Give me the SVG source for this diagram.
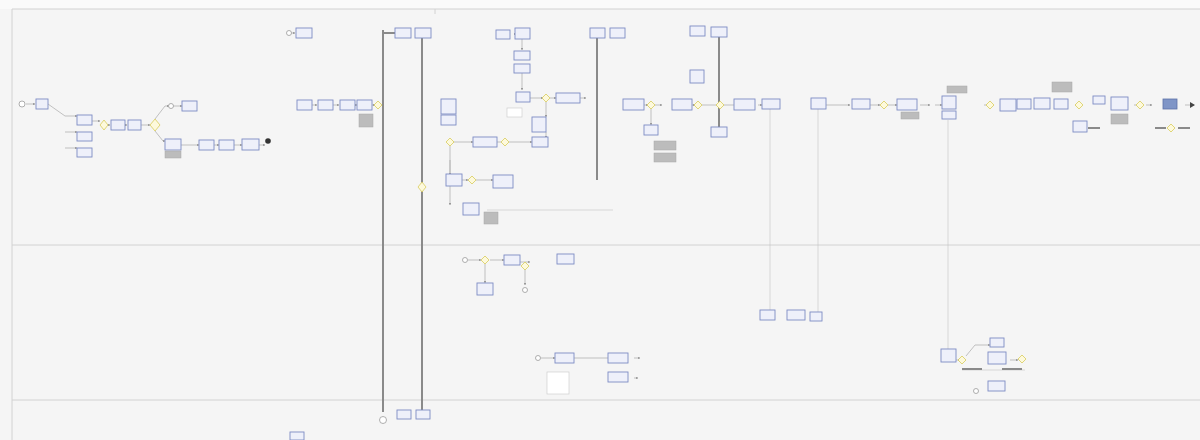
<svg xmlns="http://www.w3.org/2000/svg" width="1200" height="440" viewBox="0 0 1200 440">
<style>
.t{fill:#eef0fa;stroke:#7d8cc4;stroke-width:0.9}
.w{fill:#ffffff;stroke:#c8c8c8;stroke-width:0.6}
.g{fill:#bcbcbc;stroke:#a8a8a8;stroke-width:0.5}
.d{fill:#fdf9dc;stroke:#d8cc5a;stroke-width:0.8}
.e{fill:#ffffff;stroke:#9a9a9a;stroke-width:0.8}
.c{fill:none;stroke:#a9a9a9;stroke-width:0.7;marker-end:url(#a)}
.m{fill:none;stroke:#c4c4c4;stroke-width:0.6}
.k{fill:none;stroke:#8a8a8a;stroke-width:2}
.lane{stroke:#d2d2d2;stroke-width:1}
</style>
<defs>
<marker id="a" markerWidth="4" markerHeight="4" refX="3.5" refY="2" orient="auto"><path d="M0,0L4,2L0,4z" fill="#9a9a9a"/></marker>
</defs>
<rect width="1200" height="440" fill="#f5f5f5"/>
<rect width="1200" height="9" fill="#fafafa"/>
<g id="lanes">
<line class="lane" x1="12" y1="9" x2="1200" y2="9"/>
<line class="lane" x1="12" y1="9" x2="12" y2="440"/>
<line class="lane" x1="12" y1="245" x2="1200" y2="245"/>
<line class="lane" x1="12" y1="400" x2="1200" y2="400"/>
<line class="lane" x1="435" y1="9" x2="435" y2="14"/>
</g>
<g id="connectors">
<path class="k" d="M383,30V412"/>
<path class="k" d="M383,33H395"/>
<path class="k" d="M422,33V410"/>
<path class="k" d="M597,30V180"/>
<path class="k" d="M719,30V130"/>
<path class="m" d="M770,108V315"/>
<path class="m" d="M818,108V315"/>
<path class="m" d="M948,120V352"/>
<path class="m" d="M487,210H613"/>
<path class="c" d="M26,104H35"/>
<path class="c" d="M48,104L65,116H77"/>
<path class="c" d="M65,132H77"/>
<path class="c" d="M65,148H77"/>
<path class="c" d="M92,121H100"/>
<path class="c" d="M104,125H110"/>
<path class="c" d="M125,125H127"/>
<path class="c" d="M141,125H150"/>
<path class="c" d="M155,119L165,106H169"/>
<path class="c" d="M173,106H182"/>
<path class="c" d="M155,131L163,141H165"/>
<path class="c" d="M181,145H199"/>
<path class="c" d="M214,145H219"/>
<path class="c" d="M234,145H242"/>
<path class="c" d="M259,145H265"/>
<path class="c" d="M290,33H295"/>
<path class="c" d="M312,105H317"/>
<path class="c" d="M333,105H339"/>
<path class="c" d="M355,105H357"/>
<path class="c" d="M372,105H375"/>
<path class="c" d="M514,34H516"/>
<path class="c" d="M522,39V50"/>
<path class="c" d="M522,73V90"/>
<path class="c" d="M530,98H543"/>
<path class="c" d="M550,98H556"/>
<path class="c" d="M580,98H586"/>
<path class="c" d="M546,102V117"/>
<path class="c" d="M546,132V138"/>
<path class="c" d="M453,142H473"/>
<path class="c" d="M497,142H504"/>
<path class="c" d="M509,142H532"/>
<path class="c" d="M450,146V175"/>
<path class="c" d="M462,180H468"/>
<path class="c" d="M476,180H493"/>
<path class="c" d="M450,160V205"/>
<path class="c" d="M468,260H481"/>
<path class="c" d="M490,260H504"/>
<path class="c" d="M485,264V283"/>
<path class="c" d="M520,262H530"/>
<path class="c" d="M525,268V285"/>
<path class="c" d="M541,358H555"/>
<path class="c" d="M574,358H615"/>
<path class="c" d="M634,358H640"/>
<path class="c" d="M634,378H638"/>
<path class="c" d="M644,105H648"/>
<path class="c" d="M654,105H662"/>
<path class="c" d="M651,109V125"/>
<path class="c" d="M692,105H695"/>
<path class="c" d="M702,105H742"/>
<path class="c" d="M758,105H762"/>
<path class="c" d="M826,105H850"/>
<path class="c" d="M868,105H880"/>
<path class="c" d="M888,105H897"/>
<path class="c" d="M920,105H930"/>
<path class="c" d="M935,105H942"/>
<path class="c" d="M984,105H990"/>
<path class="c" d="M1075,105H1080"/>
<path class="c" d="M1112,105H1118"/>
<path class="c" d="M1134,105H1140"/>
<path class="c" d="M1146,105H1152"/>
<path class="c" d="M1185,105H1194"/>
<path class="c" d="M954,360H960"/>
<path class="c" d="M966,356L975,345H990"/>
<path class="c" d="M1010,360H1018"/>
<path class="m" d="M962,370H1025"/>
<path class="k" d="M962,369H982M1002,369H1022"/>
<path class="k" d="M1088,128H1100"/>
<path class="k" d="M1155,128H1166M1178,128H1190"/>
</g>
<g id="start1"><circle class="e" cx="22" cy="104" r="3"/></g>
<g id="t1"><rect class="t" x="36" y="99" width="12" height="10"/></g>
<g id="t2"><rect class="t" x="77" y="115" width="15" height="10"/></g>
<g id="t3"><rect class="t" x="77" y="132" width="15" height="9"/></g>
<g id="t4"><rect class="t" x="77" y="148" width="15" height="9"/></g>
<g id="gw1"><path class="d" d="M104,120l4,5l-4,5l-4-5z"/></g>
<g id="t5"><rect class="t" x="111" y="120" width="14" height="10"/></g>
<g id="t6"><rect class="t" x="128" y="120" width="13" height="10"/></g>
<g id="gw2"><path class="d" d="M155,119l5,6l-5,6l-5-6z"/></g>
<g id="ev2"><circle class="e" cx="171" cy="106" r="2.5"/></g>
<g id="t7"><rect class="t" x="182" y="101" width="15" height="10"/></g>
<g id="t8"><rect class="t" x="165" y="139" width="16" height="11"/><rect class="g" x="165" y="151" width="16" height="7"/></g>
<g id="t9"><rect class="t" x="199" y="140" width="15" height="10"/></g>
<g id="t10"><rect class="t" x="219" y="140" width="15" height="10"/></g>
<g id="t11"><rect class="t" x="242" y="139" width="17" height="11"/></g>
<g id="end1"><circle cx="268" cy="141" r="2.8" fill="#333"/></g>
<g id="ev3"><circle class="e" cx="289" cy="33" r="2.5"/></g>
<g id="t12"><rect class="t" x="296" y="28" width="16" height="10"/></g>
<g id="t13"><rect class="t" x="297" y="100" width="15" height="10"/></g>
<g id="t14"><rect class="t" x="318" y="100" width="15" height="10"/></g>
<g id="t15"><rect class="t" x="340" y="100" width="15" height="10"/></g>
<g id="t16"><rect class="t" x="357" y="100" width="15" height="10"/><rect class="g" x="359" y="114" width="14" height="13"/></g>
<g id="gw3"><path class="d" d="M378,101l4,4l-4,4l-4-4z"/></g>
<g id="t17"><rect class="t" x="395" y="28" width="16" height="10"/></g>
<g id="t18"><rect class="t" x="415" y="28" width="16" height="10"/></g>
<g id="gw4"><path class="d" d="M422,182l4,5l-4,5l-4-5z"/></g>
<g id="end2"><circle class="e" cx="383" cy="420" r="3.5"/></g>
<g id="t19"><rect class="t" x="397" y="410" width="14" height="9"/></g>
<g id="t20"><rect class="t" x="416" y="410" width="14" height="9"/></g>
<g id="t21"><rect class="t" x="290" y="432" width="14" height="8"/></g>
<g id="t22"><rect class="t" x="496" y="30" width="14" height="9"/></g>
<g id="t23"><rect class="t" x="515" y="28" width="15" height="11"/></g>
<g id="t24"><rect class="t" x="514" y="51" width="16" height="9"/><rect class="t" x="514" y="64" width="16" height="9"/></g>
<g id="t25"><rect class="t" x="516" y="92" width="14" height="10"/></g>
<g id="gw5"><path class="d" d="M546,94l4,4l-4,4l-4-4z"/></g>
<g id="t26"><rect class="t" x="556" y="93" width="24" height="10"/></g>
<g id="t27"><rect class="w" x="507" y="108" width="15" height="9"/></g>
<g id="t28"><rect class="t" x="532" y="117" width="14" height="15"/></g>
<g id="t29"><rect class="t" x="532" y="137" width="16" height="10"/></g>
<g id="t30"><rect class="t" x="441" y="99" width="15" height="15"/><rect class="t" x="441" y="115" width="15" height="10"/></g>
<g id="gw6"><path class="d" d="M450,138l4,4l-4,4l-4-4z"/></g>
<g id="t31"><rect class="t" x="473" y="137" width="24" height="10"/></g>
<g id="gw7"><path class="d" d="M505,138l4,4l-4,4l-4-4z"/></g>
<g id="t32"><rect class="t" x="446" y="174" width="16" height="12"/></g>
<g id="gw8"><path class="d" d="M472,176l4,4l-4,4l-4-4z"/></g>
<g id="t33"><rect class="t" x="493" y="175" width="20" height="13"/></g>
<g id="t34"><rect class="t" x="463" y="203" width="16" height="12"/><rect class="g" x="484" y="212" width="14" height="12"/></g>
<g id="t35"><rect class="t" x="590" y="28" width="15" height="10"/></g>
<g id="t36"><rect class="t" x="610" y="28" width="15" height="10"/></g>
<g id="ev4"><circle class="e" cx="465" cy="260" r="2.5"/></g>
<g id="gw9"><path class="d" d="M485,256l4,4l-4,4l-4-4z" fill="#eaf3c0"/></g>
<g id="t37"><rect class="t" x="504" y="255" width="16" height="10"/></g>
<g id="t38"><rect class="t" x="477" y="283" width="16" height="12"/></g>
<g id="gw10"><path class="d" d="M525,262l4,4l-4,4l-4-4z"/></g>
<g id="t39"><rect class="t" x="557" y="254" width="17" height="10"/></g>
<g id="ev5"><circle class="e" cx="525" cy="290" r="2.5"/></g>
<g id="ev6"><circle class="e" cx="538" cy="358" r="2.5"/></g>
<g id="t40"><rect class="t" x="555" y="353" width="19" height="10"/></g>
<g id="t41"><rect class="w" x="547" y="372" width="22" height="22"/></g>
<g id="t42"><rect class="t" x="608" y="353" width="20" height="10"/></g>
<g id="t43"><rect class="t" x="608" y="372" width="20" height="10" stroke="#555"/></g>
<g id="t44"><rect class="t" x="623" y="99" width="21" height="11"/></g>
<g id="gw11"><path class="d" d="M651,101l4,4l-4,4l-4-4z"/></g>
<g id="t45"><rect class="t" x="644" y="125" width="14" height="10"/><rect class="g" x="654" y="141" width="22" height="9"/><rect class="g" x="654" y="153" width="22" height="9"/></g>
<g id="t46"><rect class="t" x="672" y="99" width="20" height="11"/></g>
<g id="gw12"><path class="d" d="M698,101l4,4l-4,4l-4-4z"/></g>
<g id="t47"><rect class="t" x="690" y="70" width="14" height="13"/></g>
<g id="t48"><rect class="t" x="690" y="26" width="15" height="10"/></g>
<g id="t49"><rect class="t" x="711" y="27" width="16" height="10"/></g>
<g id="t50"><rect class="t" x="711" y="127" width="16" height="10"/></g>
<g id="gw13"><path class="d" d="M720,101l4,4l-4,4l-4-4z"/></g>
<g id="t51"><rect class="t" x="734" y="99" width="21" height="11" stroke="#5a6aa8"/></g>
<g id="t52"><rect class="t" x="762" y="99" width="18" height="10"/></g>
<g id="t53"><rect class="t" x="811" y="98" width="15" height="11"/></g>
<g id="t54"><rect class="t" x="852" y="99" width="18" height="10"/></g>
<g id="gw14"><path class="d" d="M884,101l4,4l-4,4l-4-4z"/></g>
<g id="t55"><rect class="t" x="897" y="99" width="20" height="11"/><rect class="g" x="901" y="112" width="18" height="7"/></g>
<g id="t56"><rect class="t" x="942" y="96" width="14" height="13"/><rect class="g" x="947" y="86" width="20" height="7"/><rect class="t" x="942" y="111" width="14" height="8"/></g>
<g id="gw15"><path class="d" d="M990,101l4,4l-4,4l-4-4z"/></g>
<g id="t57"><rect class="t" x="1000" y="99" width="16" height="12"/></g>
<g id="t58"><rect class="t" x="1017" y="99" width="14" height="10"/></g>
<g id="t59"><rect class="t" x="1034" y="98" width="16" height="11"/></g>
<g id="t60"><rect class="t" x="1054" y="99" width="14" height="10"/><rect class="g" x="1052" y="82" width="20" height="10"/></g>
<g id="gw16"><path class="d" d="M1079,101l4,4l-4,4l-4-4z"/></g>
<g id="t61"><rect class="t" x="1073" y="121" width="14" height="11"/></g>
<g id="t62"><rect class="t" x="1093" y="96" width="12" height="8"/></g>
<g id="t63"><rect class="t" x="1111" y="97" width="17" height="13"/><rect class="g" x="1111" y="114" width="17" height="10"/></g>
<g id="gw17"><path class="d" d="M1140,101l4,4l-4,4l-4-4z"/></g>
<g id="t64"><rect x="1163" y="99" width="14" height="10" fill="#7f95c7" stroke="#5c72a8" stroke-width="0.8"/></g>
<g id="end3"><path d="M1190,102l5,3l-5,3z" fill="#444"/></g>
<g id="gw18"><path class="d" d="M1171,124l4,4l-4,4l-4-4z"/></g>
<g id="t65"><rect class="t" x="760" y="310" width="15" height="10"/></g>
<g id="t66"><rect class="t" x="787" y="310" width="18" height="10"/></g>
<g id="t67"><rect class="t" x="810" y="312" width="12" height="9"/></g>
<g id="t68"><rect class="t" x="941" y="349" width="15" height="13"/></g>
<g id="gw19"><path class="d" d="M962,356l4,4l-4,4l-4-4z"/></g>
<g id="t69"><rect class="t" x="990" y="338" width="14" height="9"/></g>
<g id="t70"><rect class="t" x="988" y="352" width="18" height="12"/></g>
<g id="t71"><rect class="t" x="988" y="381" width="17" height="10"/></g>
<g id="gw20"><path class="d" d="M1022,355l4,4l-4,4l-4-4z"/></g>
<g id="ev7"><circle class="e" cx="976" cy="391" r="2.5"/></g>
</svg>
